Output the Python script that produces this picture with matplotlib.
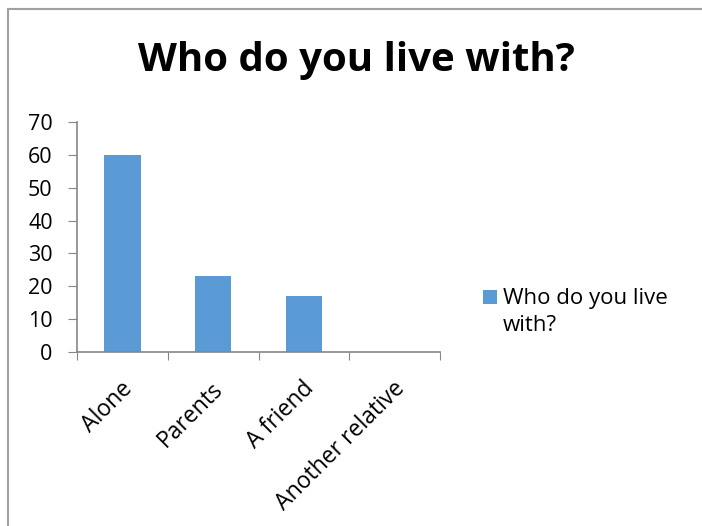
import matplotlib.pyplot as plt
from matplotlib.lines import Line2D
from matplotlib.patches import Rectangle
import matplotlib.transforms as mtransforms
import numpy as np

plt.rcParams['font.family'] = ['Open Sans', 'DejaVu Sans']

categories = ['Alone', 'Parents', 'A friend', 'Another relative']
values = [60, 23, 17, 0]
series_name = 'Who do you live with?'

fig = plt.figure(figsize=(7.02, 5.26), dpi=100)
ax = fig.add_axes([77 / 702, 1 - 352 / 526, (440 - 77) / 702, (352 - 122) / 526])

x = np.arange(len(categories))
ax.bar(x, values, width=0.4, color='#5B9BD5')

ax.set_xlim(-0.5, len(categories) - 0.5)
ax.set_ylim(0, 70)
ax.set_yticks(np.arange(0, 71, 10))
ax.tick_params(axis='y', labelsize=15.5, length=6.5, color='#868686', pad=11)

# ticks between categories, labels at centers
ax.set_xticks(np.arange(-0.5, len(categories)), minor=False)
ax.set_xticklabels([])
ax.set_xticks(x, minor=True)
ax.set_xticklabels(categories, minor=True, rotation=45, ha='right',
                   rotation_mode='anchor', fontsize=16.5)
ax.tick_params(axis='x', which='major', length=6, color='#868686')
ax.tick_params(axis='x', which='minor', length=0, pad=18)
shift = mtransforms.ScaledTranslation(-2 / 100, 0, fig.dpi_scale_trans)
for lbl in ax.get_xticklabels(minor=True):
    lbl.set_transform(lbl.get_transform() + shift)

for s in ['top', 'right']:
    ax.spines[s].set_visible(False)
for s in ['left', 'bottom']:
    ax.spines[s].set_color('#868686')
    ax.spines[s].set_linewidth(1.2)

fig.text(356 / 702, 1 - 61 / 526, series_name, ha='center', va='center',
         fontsize=29, fontweight='bold')

# legend (square next to wrapped series name)
fig.add_artist(Rectangle((483 / 702, 1 - 304 / 526), 14 / 702, 14 / 526,
                         transform=fig.transFigure, color='#5B9BD5', lw=0))
fig.text(503 / 702, 1 - 288 / 526, 'Who do you live\nwith?', ha='left', va='top',
         fontsize=16, linespacing=1.4)

# chart area border (left and top visible)
fig.add_artist(Line2D([8 / 702, 8 / 702], [0, 1 - 9 / 526], transform=fig.transFigure,
                      color='#A0A0A0', lw=1.5))
fig.add_artist(Line2D([8 / 702, 1], [1 - 9 / 526, 1 - 9 / 526], transform=fig.transFigure,
                      color='#A0A0A0', lw=1.5))

fig.savefig('out.png', dpi=100)
